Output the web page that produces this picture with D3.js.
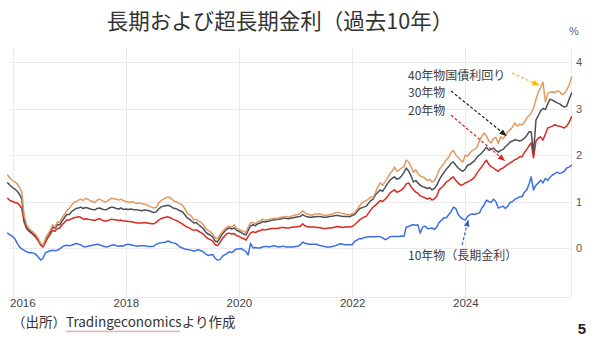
<!DOCTYPE html>
<html>
<head>
<meta charset="utf-8">
<script src="https://cdn.jsdelivr.net/npm/d3@7"></script>
<style>
  html, body { margin: 0; padding: 0; background: #fff; }
  svg { display: block; }
</style>
</head>
<body>
<svg id="chart" width="600" height="344"></svg>
<script>
// JGB yields (%), semi-monthly observations (1st and 16th) from Dec 2015 to Nov 2025
const firstMonth = "2015-12";
const yieldTicks = [0, 1, 2, 3, 4];
const yearTicks = [2016, 2018, 2020, 2022, 2024];

const yield40 = [
  1.57, 1.50,
  1.45, 1.42, 1.38, 1.30, 1.20, 0.70, 0.50, 0.42, 0.38, 0.33, 0.28, 0.20, 0.10, 0.06, 0.20, 0.30, 0.38, 0.50, 0.45, 0.56, 0.55, 0.65, 0.72, 0.80,
  0.85, 0.92, 0.98, 1.00, 1.03, 1.05, 1.02, 1.07, 1.05, 1.02, 1.00, 0.98, 1.03, 1.05, 1.02, 0.99, 1.00, 1.04, 1.07, 1.06, 1.05, 1.03, 1.05, 1.02,
  1.00, 0.99, 0.98, 1.00, 0.97, 0.96, 0.97, 0.95, 0.94, 0.93, 0.90, 0.88, 0.86, 0.87, 0.97, 1.02, 1.05, 1.08, 1.10, 1.08, 1.03, 1.00, 0.98, 0.95,
  0.92, 0.85, 0.75, 0.72, 0.68, 0.60, 0.62, 0.58, 0.55, 0.50, 0.42, 0.38, 0.35, 0.30, 0.22, 0.20, 0.28, 0.35, 0.40, 0.45, 0.47, 0.45, 0.50, 0.42,
  0.40, 0.38, 0.35, 0.34, 0.45, 0.54, 0.55, 0.52, 0.56, 0.58, 0.62, 0.60, 0.60, 0.62, 0.63, 0.64, 0.63, 0.65, 0.66, 0.67, 0.68, 0.66, 0.68, 0.70,
  0.71, 0.72, 0.75, 0.80, 0.76, 0.73, 0.72, 0.70, 0.73, 0.72, 0.74, 0.72, 0.71, 0.70, 0.71, 0.72, 0.74, 0.76, 0.77, 0.75, 0.74, 0.73, 0.72, 0.71,
  0.74, 0.76, 0.82, 0.90, 0.95, 0.99, 1.02, 1.05, 1.10, 1.08, 1.20, 1.32, 1.40, 1.35, 1.42, 1.50, 1.60, 1.65, 1.74, 1.65, 1.68, 1.72, 1.75, 1.89,
  1.85, 1.75, 1.63, 1.68, 1.60, 1.55, 1.53, 1.50, 1.45, 1.48, 1.42, 1.45, 1.55, 1.68, 1.75, 1.82, 1.90, 1.95, 2.05, 2.10, 2.00, 1.95, 1.89, 1.85,
  2.00, 1.98, 2.05, 2.10, 2.12, 2.17, 2.30, 2.40, 2.47, 2.42, 2.30, 2.26, 2.35, 2.38, 2.25, 2.39, 2.35, 2.42, 2.50, 2.54, 2.60, 2.69, 2.62, 2.66,
  2.65, 2.70, 2.80, 2.85, 2.90, 3.00, 3.20, 3.35, 3.45, 3.57, 3.14, 3.32, 3.35, 3.36, 3.34, 3.38, 3.36, 3.30, 3.32, 3.40, 3.50, 3.68
];

const yield30 = [
  1.40, 1.35,
  1.30, 1.27, 1.22, 1.15, 1.05, 0.60, 0.45, 0.38, 0.34, 0.30, 0.25, 0.18, 0.09, 0.06, 0.18, 0.28, 0.35, 0.45, 0.42, 0.50, 0.50, 0.58, 0.65, 0.72,
  0.72, 0.78, 0.82, 0.85, 0.86, 0.88, 0.85, 0.87, 0.86, 0.84, 0.83, 0.82, 0.85, 0.86, 0.84, 0.82, 0.83, 0.86, 0.88, 0.87, 0.85, 0.84, 0.86, 0.83,
  0.84, 0.83, 0.84, 0.83, 0.82, 0.82, 0.81, 0.80, 0.82, 0.81, 0.80, 0.78, 0.76, 0.78, 0.84, 0.88, 0.90, 0.91, 0.92, 0.90, 0.86, 0.85, 0.83, 0.80,
  0.78, 0.72, 0.65, 0.62, 0.58, 0.54, 0.55, 0.50, 0.46, 0.42, 0.34, 0.30, 0.28, 0.24, 0.15, 0.13, 0.22, 0.30, 0.36, 0.41, 0.43, 0.41, 0.43, 0.38,
  0.36, 0.33, 0.30, 0.28, 0.38, 0.47, 0.50, 0.48, 0.52, 0.53, 0.57, 0.56, 0.57, 0.58, 0.60, 0.60, 0.61, 0.62, 0.63, 0.64, 0.64, 0.63, 0.64, 0.65,
  0.66, 0.67, 0.68, 0.72, 0.69, 0.67, 0.66, 0.66, 0.67, 0.67, 0.68, 0.67, 0.66, 0.66, 0.67, 0.68, 0.69, 0.70, 0.70, 0.69, 0.68, 0.68, 0.68, 0.67,
  0.70, 0.72, 0.78, 0.84, 0.86, 0.88, 0.90, 0.96, 1.02, 1.05, 1.15, 1.20, 1.25, 1.22, 1.30, 1.38, 1.45, 1.50, 1.53, 1.48, 1.50, 1.55, 1.62, 1.72,
  1.65, 1.55, 1.42, 1.45, 1.40, 1.35, 1.32, 1.30, 1.28, 1.30, 1.25, 1.28, 1.35, 1.46, 1.55, 1.62, 1.70, 1.75, 1.82, 1.85, 1.78, 1.72, 1.68, 1.65,
  1.70, 1.78, 1.80, 1.84, 1.88, 1.95, 2.00, 2.04, 2.10, 2.17, 2.10, 2.12, 2.15, 2.10, 2.06, 2.10, 2.12, 2.18, 2.22, 2.28, 2.30, 2.33, 2.32, 2.30,
  2.32, 2.36, 2.42, 2.50, 2.50, 2.04, 2.75, 2.85, 2.95, 3.00, 2.98, 3.10, 3.20, 3.18, 3.15, 3.12, 3.10, 3.06, 3.03, 3.05, 3.20, 3.33
];

const yield20 = [
  1.07, 1.02,
  1.00, 0.98, 0.97, 0.92, 0.85, 0.55, 0.42, 0.36, 0.32, 0.28, 0.22, 0.15, 0.06, 0.02, 0.12, 0.22, 0.30, 0.38, 0.36, 0.42, 0.43, 0.50, 0.55, 0.60,
  0.60, 0.63, 0.65, 0.66, 0.67, 0.66, 0.62, 0.63, 0.62, 0.61, 0.60, 0.59, 0.62, 0.63, 0.60, 0.58, 0.58, 0.60, 0.62, 0.61, 0.60, 0.59, 0.60, 0.58,
  0.58, 0.57, 0.57, 0.56, 0.55, 0.54, 0.54, 0.54, 0.55, 0.54, 0.53, 0.52, 0.52, 0.55, 0.60, 0.63, 0.65, 0.66, 0.67, 0.65, 0.62, 0.60, 0.58, 0.55,
  0.52, 0.48, 0.45, 0.43, 0.40, 0.38, 0.39, 0.36, 0.33, 0.30, 0.24, 0.20, 0.18, 0.15, 0.07, 0.05, 0.12, 0.20, 0.26, 0.31, 0.32, 0.30, 0.31, 0.27,
  0.25, 0.22, 0.20, 0.17, 0.25, 0.32, 0.35, 0.33, 0.36, 0.37, 0.40, 0.39, 0.40, 0.41, 0.42, 0.42, 0.42, 0.43, 0.44, 0.44, 0.43, 0.43, 0.44, 0.45,
  0.45, 0.46, 0.47, 0.52, 0.48, 0.46, 0.45, 0.45, 0.45, 0.44, 0.44, 0.43, 0.42, 0.42, 0.43, 0.43, 0.44, 0.45, 0.46, 0.45, 0.44, 0.45, 0.45, 0.45,
  0.46, 0.50, 0.55, 0.60, 0.63, 0.66, 0.68, 0.75, 0.82, 0.88, 0.92, 0.97, 1.02, 1.00, 1.05, 1.10, 1.18, 1.22, 1.25, 1.20, 1.22, 1.25, 1.30, 1.38,
  1.40, 1.32, 1.25, 1.20, 1.18, 1.12, 1.10, 1.08, 1.05, 1.08, 1.03, 1.06, 1.12, 1.25, 1.30, 1.35, 1.42, 1.45, 1.50, 1.53, 1.45, 1.40, 1.35, 1.36,
  1.40, 1.42, 1.45, 1.48, 1.52, 1.61, 1.68, 1.75, 1.82, 1.89, 1.80, 1.75, 1.72, 1.68, 1.65, 1.70, 1.72, 1.76, 1.80, 1.83, 1.86, 1.90, 1.92, 1.96,
  1.96, 2.05, 2.12, 2.20, 2.26, 1.94, 2.30, 2.36, 2.39, 2.32, 2.45, 2.58, 2.60, 2.62, 2.65, 2.63, 2.62, 2.60, 2.58, 2.62, 2.70, 2.82
];

const yield10 = [
  0.32, 0.28,
  0.25, 0.20, 0.10, 0.02, -0.02, -0.05, -0.08, -0.10, -0.10, -0.11, -0.14, -0.20, -0.26, -0.22, -0.10, -0.08, -0.06, -0.05, -0.06, -0.05, -0.02, 0.02, 0.05, 0.06,
  0.05, 0.06, 0.08, 0.10, 0.08, 0.07, 0.03, 0.02, 0.04, 0.05, 0.06, 0.07, 0.08, 0.07, 0.05, 0.03, 0.02, 0.04, 0.06, 0.07, 0.05, 0.04, 0.05, 0.04,
  0.07, 0.08, 0.07, 0.06, 0.05, 0.04, 0.05, 0.05, 0.05, 0.04, 0.03, 0.03, 0.04, 0.08, 0.10, 0.11, 0.12, 0.13, 0.15, 0.13, 0.11, 0.10, 0.07, 0.02,
  0.00, -0.02, -0.03, -0.04, -0.05, -0.07, -0.05, -0.04, -0.06, -0.08, -0.13, -0.16, -0.15, -0.14, -0.22, -0.26, -0.25, -0.18, -0.15, -0.12, -0.08, -0.10, -0.06, -0.02,
  -0.02, -0.01, -0.05, -0.08, -0.15, 0.10, 0.00, 0.01, 0.00, 0.00, 0.02, 0.03, 0.03, 0.02, 0.04, 0.05, 0.03, 0.02, 0.03, 0.04, 0.02, 0.02, 0.02, 0.02,
  0.03, 0.04, 0.07, 0.13, 0.10, 0.09, 0.08, 0.08, 0.08, 0.08, 0.06, 0.05, 0.04, 0.02, 0.02, 0.02, 0.04, 0.05, 0.07, 0.09, 0.08, 0.07, 0.07, 0.07,
  0.07, 0.14, 0.17, 0.20, 0.20, 0.22, 0.23, 0.24, 0.24, 0.24, 0.24, 0.25, 0.24, 0.22, 0.18, 0.20, 0.24, 0.25, 0.25, 0.25, 0.25, 0.26, 0.25, 0.45,
  0.46, 0.49, 0.50, 0.49, 0.50, 0.32, 0.45, 0.47, 0.42, 0.42, 0.43, 0.40, 0.45, 0.55, 0.60, 0.65, 0.65, 0.72, 0.78, 0.88, 0.85, 0.72, 0.66, 0.62,
  0.60, 0.68, 0.72, 0.73, 0.72, 0.74, 0.75, 0.86, 0.92, 1.03, 1.00, 0.98, 1.05, 1.00, 0.86, 0.88, 0.90, 0.85, 0.90, 0.98, 1.00, 1.05, 1.07, 1.10,
  1.10, 1.20, 1.25, 1.38, 1.53, 1.25, 1.35, 1.40, 1.46, 1.40, 1.50, 1.45, 1.52, 1.57, 1.60, 1.63, 1.60, 1.62, 1.65, 1.72, 1.74, 1.78
];

const seriesNames = ["10年物", "20年物", "30年物", "40年物"];
const seriesColors = ["#3d6fe3", "#d92a1f", "#4b4f5c", "#e09a62"];

// observation dates: 1st and 16th of each month
const [fy, fm] = firstMonth.split("-").map(Number);
const dates = yield40.map((_, i) => new Date(fy, fm - 1 + Math.floor(i / 2), i % 2 ? 16 : 1));

const svg = d3.select("#chart");
const plot = { left: 10, right: 571, top: 48, bottom: 297 };

const x = d3.scaleTime()
  .domain([new Date(2016, 0, 1), new Date(2024, 0, 1)])
  .range([12.5, 465.3]);
const y = d3.scaleLinear().domain([0, 4]).range([248, 62]);

const cjk = "'Noto Sans CJK JP', 'Noto Sans', sans-serif";
const latin = "'Liberation Sans', Arial, sans-serif";

// title
svg.append("text")
  .attr("x", 280).attr("y", 29)
  .attr("text-anchor", "middle")
  .attr("font-family", cjk).attr("font-size", 21.5)
  .attr("fill", "#333")
  .text("長期および超長期金利（過去10年）");

svg.append("text")
  .attr("x", 574).attr("y", 35)
  .attr("text-anchor", "middle")
  .attr("font-family", latin).attr("font-size", 11)
  .attr("fill", "#666")
  .text("%");

// grid
const grid = svg.append("g").attr("stroke", "#ebebeb").attr("stroke-width", 1).attr("fill", "none");
yieldTicks.forEach(v => {
  grid.append("line").attr("x1", plot.left).attr("x2", plot.right)
    .attr("y1", Math.round(y(v)) + 0.5).attr("y2", Math.round(y(v)) + 0.5);
});
yearTicks.forEach(yr => {
  const px = Math.round(x(new Date(yr, 0, 1))) + 0.5;
  grid.append("line").attr("x1", px).attr("x2", px).attr("y1", plot.top).attr("y2", plot.bottom);
});
grid.append("line").attr("x1", plot.right + 0.5).attr("x2", plot.right + 0.5).attr("y1", plot.top).attr("y2", plot.bottom);
grid.append("line").attr("x1", plot.left).attr("x2", plot.right).attr("y1", plot.bottom + 0.5).attr("y2", plot.bottom + 0.5);

// axes (labels only)
const yAxis = svg.append("g")
  .attr("transform", `translate(${plot.right + 2},0)`)
  .call(d3.axisRight(y).tickValues(yieldTicks).tickSize(0).tickPadding(3).tickFormat(d3.format("d")));
yAxis.select(".domain").remove();
yAxis.selectAll("text").attr("font-family", latin).attr("font-size", 11).attr("fill", "#555");

const xAxis = svg.append("g")
  .attr("transform", `translate(0,${plot.bottom})`)
  .call(d3.axisBottom(x).tickValues(yearTicks.map(yr => new Date(yr, 0, 1))).tickSize(0).tickPadding(2)
    .tickFormat(d3.timeFormat("%Y")));
xAxis.select(".domain").remove();
xAxis.selectAll("text").attr("font-family", latin).attr("font-size", 11.5).attr("fill", "#444");
xAxis.selectAll(".tick").filter((d, i) => i === 0).select("text")
  .attr("text-anchor", "start").attr("x", -3);

// lines
const seriesValues = [yield10, yield20, yield30, yield40];
const line = d3.line().x((d, i) => x(dates[i])).y(d => y(d));
const lines = svg.append("g").attr("fill", "none").attr("stroke-linejoin", "round").attr("stroke-linecap", "round");
seriesValues.forEach((vals, k) => {
  lines.append("path")
    .attr("d", line(vals))
    .attr("stroke", seriesColors[k])
    .attr("stroke-width", 1.5)
    .attr("data-name", seriesNames[k]);
});

// annotations with dashed arrows
const defs = svg.append("defs");
const annColors = { gold: "#f2b705", black: "#222", red: "#e0251b", blue: "#2f67b8" };
Object.entries(annColors).forEach(([key, c]) => {
  defs.append("marker")
    .attr("id", "arrow-" + key)
    .attr("viewBox", "0 0 10 10").attr("refX", 9).attr("refY", 5)
    .attr("markerWidth", 6).attr("markerHeight", 6)
    .attr("orient", "auto")
    .append("path").attr("d", "M0,1 L10,5 L0,9 Z").attr("fill", c);
});

const annotations = [
  { text: "40年物国債利回り", tx: 408, ty: 79.5, color: "gold", from: [512, 73], toDate: new Date(2025, 3, 20), toVal: 3.5 },
  { text: "30年物", tx: 408, ty: 97, color: "black", from: [451, 91], toDate: new Date(2024, 8, 20), toVal: 2.42 },
  { text: "20年物", tx: 408, ty: 114.5, color: "red", from: [451, 115], toDate: new Date(2024, 8, 10), toVal: 1.88 },
  { text: "10年物（長期金利）", tx: 408, ty: 260, color: "blue", from: [462, 245], toDate: new Date(2024, 0, 20), toVal: 0.6 }
];
annotations.forEach(a => {
  svg.append("text")
    .attr("x", a.tx).attr("y", a.ty)
    .attr("font-family", cjk).attr("font-size", 12)
    .attr("fill", "#404040")
    .text(a.text);
  svg.append("line")
    .attr("x1", a.from[0]).attr("y1", a.from[1])
    .attr("x2", x(a.toDate)).attr("y2", y(a.toVal))
    .attr("stroke", annColors[a.color])
    .attr("stroke-width", 1.2)
    .attr("stroke-dasharray", "3,2")
    .attr("marker-end", `url(#arrow-${a.color})`);
});

// source note
const note = svg.append("text")
  .attr("x", 12).attr("y", 327)
  .attr("font-family", cjk).attr("font-size", 13.5)
  .attr("fill", "#333");
note.append("tspan").text("（出所）");
note.append("tspan").text("Tradingeconomics");
note.append("tspan").text("より作成");

// spell-check style wavy underline under the source name
const noteEl = note.node();
const startIdx = "（出所）".length;
const endIdx = startIdx + "Tradingeconomics".length - 1;
const ux0 = noteEl.getStartPositionOfChar(startIdx).x;
const ux1 = noteEl.getEndPositionOfChar(endIdx).x;
const wave = [];
for (let px = ux0, k = 0; px <= ux1; px += 2, k++) wave.push([px, 331 + (k % 2 ? 1 : -0.2)]);
svg.append("path")
  .attr("d", d3.line()(wave))
  .attr("fill", "none").attr("stroke", "#e46a6a").attr("stroke-width", 0.8);

// page number
svg.append("text")
  .attr("x", 582).attr("y", 334)
  .attr("text-anchor", "middle")
  .attr("font-family", latin).attr("font-size", 15).attr("font-weight", "bold")
  .attr("fill", "#222")
  .text("5");
</script>
</body>
</html>
